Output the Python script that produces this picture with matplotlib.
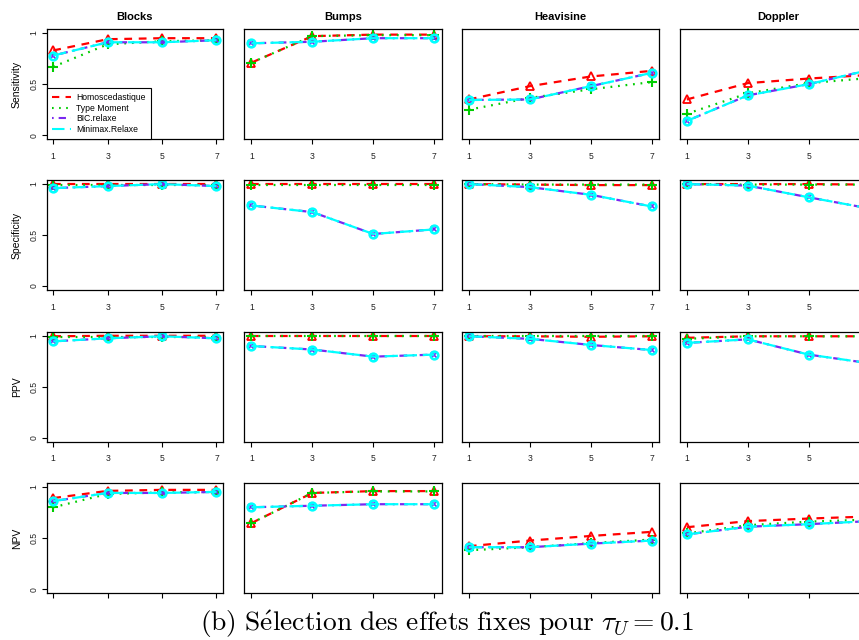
import matplotlib
matplotlib.use("Agg")
import matplotlib.pyplot as plt
from matplotlib.patches import Rectangle
from matplotlib.lines import Line2D

plt.rcParams['font.family'] = ['Liberation Sans', 'DejaVu Sans']
plt.rcParams['mathtext.fontset'] = 'cm'

# ---------------- data ----------------
x_vals = [1, 3, 5, 7]
signals = ["Blocks", "Bumps", "Heavisine", "Doppler"]
metrics = ["Sensitivity", "Specificity", "PPV", "NPV"]
methods = ["Homoscedastique", "Type Moment", "BIC.relaxe", "Minimax.Relaxe"]

# each list: [Blocks, Bumps, Heavisine, Doppler], values at x = 1, 3, 5, 7
sens_homo = [[0.83, 0.94, 0.95, 0.95], [0.71, 0.97, 0.985, 0.985], [0.35, 0.48, 0.575, 0.63], [0.35, 0.51, 0.555, 0.59]]
sens_tm   = [[0.67, 0.89, 0.92, 0.93], [0.71, 0.97, 0.98, 0.98], [0.25, 0.365, 0.45, 0.52], [0.21, 0.41, 0.51, 0.56]]
sens_bic  = [[0.78, 0.91, 0.91, 0.93], [0.90, 0.915, 0.95, 0.95], [0.345, 0.35, 0.48, 0.61], [0.14, 0.39, 0.50, 0.64]]
sens_mm   = [[0.78, 0.91, 0.91, 0.93], [0.90, 0.915, 0.95, 0.95], [0.345, 0.35, 0.48, 0.61], [0.14, 0.39, 0.50, 0.64]]

spec_homo = [[1.0, 1.0, 1.0, 1.0], [1.0, 1.0, 1.0, 1.0], [1.0, 0.995, 0.99, 0.99], [1.0, 1.0, 1.0, 0.995]]
spec_tm   = [[0.99, 0.99, 0.99, 0.99], [0.995, 0.995, 0.995, 0.995], [1.0, 0.995, 0.995, 0.995], [1.0, 0.995, 0.995, 0.995]]
spec_bic  = [[0.96, 0.98, 1.0, 0.98], [0.79, 0.725, 0.51, 0.555], [1.0, 0.97, 0.895, 0.78], [1.0, 0.985, 0.87, 0.76]]
spec_mm   = [[0.96, 0.98, 1.0, 0.98], [0.79, 0.725, 0.51, 0.555], [1.0, 0.97, 0.895, 0.78], [1.0, 0.985, 0.87, 0.76]]

ppv_homo = [[0.995, 1.0, 1.0, 1.0], [1.0, 1.0, 1.0, 1.0], [0.995, 0.995, 0.99, 0.995], [0.98, 0.995, 0.995, 0.995]]
ppv_tm   = [[0.99, 0.99, 0.99, 0.99], [0.995, 0.995, 0.995, 0.995], [0.995, 0.995, 0.995, 0.995], [0.97, 0.995, 0.995, 0.995]]
ppv_bic  = [[0.945, 0.975, 0.995, 0.975], [0.90, 0.865, 0.795, 0.815], [0.995, 0.97, 0.91, 0.86], [0.93, 0.965, 0.815, 0.73]]
ppv_mm   = [[0.945, 0.975, 0.995, 0.975], [0.90, 0.865, 0.795, 0.815], [0.995, 0.97, 0.91, 0.86], [0.93, 0.965, 0.815, 0.73]]

npv_homo = [[0.89, 0.96, 0.97, 0.97], [0.645, 0.94, 0.958, 0.958], [0.42, 0.475, 0.52, 0.56], [0.605, 0.665, 0.69, 0.71]]
npv_tm   = [[0.80, 0.93, 0.945, 0.95], [0.645, 0.94, 0.955, 0.955], [0.38, 0.41, 0.45, 0.485], [0.545, 0.625, 0.66, 0.68]]
npv_bic  = [[0.86, 0.94, 0.94, 0.95], [0.80, 0.815, 0.83, 0.83], [0.41, 0.41, 0.445, 0.475], [0.535, 0.61, 0.635, 0.665]]
npv_mm   = [[0.86, 0.94, 0.94, 0.95], [0.80, 0.815, 0.83, 0.83], [0.41, 0.41, 0.445, 0.475], [0.535, 0.61, 0.635, 0.665]]

table = [
    [sens_homo, sens_tm, sens_bic, sens_mm],
    [spec_homo, spec_tm, spec_bic, spec_mm],
    [ppv_homo, ppv_tm, ppv_bic, ppv_mm],
    [npv_homo, npv_tm, npv_bic, npv_mm],
]

# ---------------- styles ----------------
styles = [
    dict(color='#FF0000', dashes=(3.5, 3.0), marker='^', ms=6, mfc='none', mew=1.3),
    dict(color='#00CD00', dashes=(0.8, 2.6), marker='+', ms=7, mfc='none', mew=1.5),
    dict(color='#7A28F0', dashes=(0.8, 2.4, 3.5, 2.4), marker='x', ms=4, mfc='none', mew=1.2),
    dict(color='#00FFFF', dashes=(6.0, 2.6), marker='o', ms=5.5, mfc='none', mew=1.9),
]

W, H = 859, 640
fig = plt.figure(figsize=(W / 100, H / 100), dpi=100)

col_x = [(46.7, 223.0), (244.0, 441.5), (461.5, 659.0), (679.5, 877.0)]
row_y = [(29.0, 139.3), (180.0, 290.0), (331.7, 441.7), (482.7, 593.3)]

for r in range(4):
    for c in range(4):
        x0, x1 = col_x[c]
        y0, y1 = row_y[r]
        ax = fig.add_axes([x0 / W, 1 - y1 / H, (x1 - x0) / W, (y1 - y0) / H])
        for m in range(4):
            st = styles[m]
            ax.plot(x_vals, table[r][m][c], color=st['color'], lw=1.6,
                    dashes=st['dashes'], marker=st['marker'], ms=st['ms'],
                    mfc=st['mfc'], mec=st['color'], mew=st['mew'],
                    label=methods[m])
        ax.set_xlim(0.76, 7.24)
        ax.set_ylim(-0.04, 1.04)
        # last column is cropped on the right in the reference: its "7" tick falls outside
        shown = x_vals if c < 3 else x_vals[:3]
        ax.set_xticks(shown)
        ax.set_xticklabels([str(v) for v in shown])
        ax.tick_params(axis='both', length=3.6, width=0.8, labelsize=6.2,
                       colors='black', labelcolor='#222222')
        ax.tick_params(axis='x', pad=5.5)
        for sp in ax.spines.values():
            sp.set_linewidth(0.9)
        if c == 0:
            ax.set_yticks([0, 0.5, 1])
            ax.set_yticklabels(['0', '0.5', '1'], rotation=90, va='center')
            ax.tick_params(axis='y', pad=2.5)
            ax.set_ylabel(metrics[r], fontsize=7.5)
            ax.yaxis.set_label_coords(-0.14, 0.5)
        else:
            ax.set_yticks([])
        if r == 0:
            ax.set_title(signals[c], fontsize=8, fontweight='bold', pad=6.5)
        if r == 0 and c == 0:
            hl = [Line2D([], [], color=s['color'], lw=1.5, dashes=s['dashes']) for s in styles]
            leg = ax.legend(hl, methods, loc='lower left', bbox_to_anchor=(0, 0),
                            borderaxespad=0, fontsize=6.2, frameon=True,
                            fancybox=False, edgecolor='black', framealpha=1,
                            handlelength=2.2, handletextpad=0.6,
                            labelspacing=0.2, borderpad=0.6)
            leg.get_frame().set_linewidth(0.8)

# white band hiding the bottom tick labels, as in the reference
fig.patches.append(Rectangle((0, 0), 1, 1 - 607 / H, transform=fig.transFigure,
                             facecolor='white', edgecolor='none', zorder=5))
fig.text(447 / W, 1 - 624 / H,
         r'$\mathrm{(b)\ S\acute{e}lection\ des\ effets\ fixes\ pour\ }\tau_U = 0.1$',
         ha='center', va='center', fontsize=19.8, zorder=6)

fig.savefig('out.png', dpi=100)
